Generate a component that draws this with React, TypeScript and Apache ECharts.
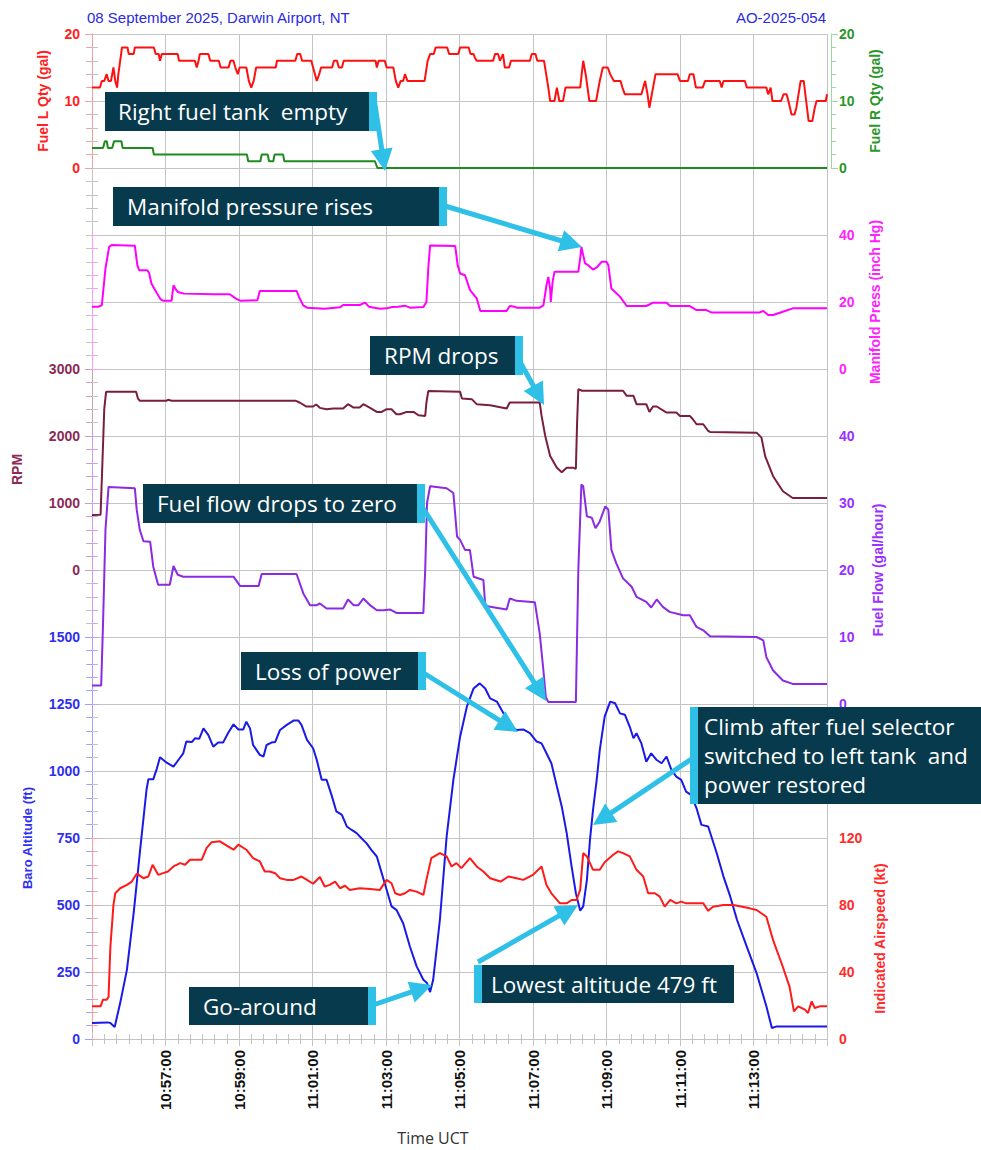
import React, { useEffect, useRef } from "react";
import * as echarts from "echarts";

// time in seconds after 10:55:00
const T_START_H = 10;
const T_START_M = 55;
const X_MAX = 1200;

const fuelL: [number, number][] = [
  [0,12],[13,12],[16,13],[20,13],[24,14],[27,13],[31,13],[35,15],[38,13],[41,12],[43,14],[46,16],[49,18],[58,18],[60,17],[68,17],[70,18],[101,18],[104,17],[109,17],[111,16],[114,17],[140,17],[142,16],[168,16],[171,15],[174,16],[176,17],[190,17],[193,16],[207,16],[210,15],[223,15],[226,16],[231,16],[234,15],[238,14],[241,15],[252,15],[256,13],[260,12],[264,13],[268,15],[300,15],[302,16],[332,16],[335,17],[340,17],[343,16],[358,16],[361,15],[364,14],[367,13],[371,14],[374,15],[392,15],[395,16],[400,16],[403,15],[408,15],[411,16],[463,16],[465,15],[468,16],[478,16],[481,15],[492,15],[496,13],[500,12],[504,13],[508,13],[511,14],[515,13],[543,13],[548,16],[552,17],[558,17],[561,18],[580,18],[583,17],[598,17],[601,18],[615,18],[618,17],[623,17],[625,16.5],[628,16],[655,16],[658,17],[663,17],[666,16],[671,17],[674,15],[681,15],[684,16],[715,16],[718,17],[724,17],[727,16],[738,16],[745,12],[748,10],[755,10],[759,12],[763,10],[769,10],[773,12],[797,12],[802,16],[806,14],[812,10],[823,10],[829,13],[834,15],[842,15],[846,14],[852,13],[863,13],[866,12],[870,11],[897,11],[900,12],[903,13],[907,11],[910,9],[914,11],[916,12],[920,14],[956,14],[960,13],[973,13],[976,14],[982,14],[986,12],[997,12],[1001,13],[1025,13],[1028,12],[1031,13],[1066,13],[1069,12],[1101,12],[1104,11],[1108,12],[1111,10],[1125,10],[1129,11],[1134,11],[1137,10],[1142,8],[1147,8],[1150,9],[1157,13],[1162,13],[1166,10],[1170,7],[1176,7],[1180,9],[1183,10],[1198,10],[1200,11]
];

const fuelR: [number, number][] = [
  [0,3],[18,3],[21,4],[24,4],[26,3],[33,3],[36,4],[48,4],[50,3],[99,3],[101,2],[253,2],[255,1],[275,1],[277,2],[287,2],[289,1],[296,1],[298,2],[312,2],[314,1],[462,1],[466,0],[1200,0]
];

const manifold: [number, number][] = [
  [0,18.6],[10,18.6],[16,19],[22,30],[28,36.5],[32,37],[70,36.8],[74,31],[77,29.5],[90,29.5],[93,28.8],[97,25.5],[106,22.6],[112,20.8],[116,20.4],[130,20.4],[133,25],[136,24],[140,23],[150,22.5],[200,22.3],[225,22.3],[235,21],[242,20.4],[270,20.5],[274,23.3],[334,23.3],[338,21.5],[345,19],[351,18.3],[380,18],[405,18.4],[410,19.1],[437,19.1],[446,19.8],[452,18.6],[470,18],[481,18.1],[490,18.5],[500,18.6],[511,18.9],[519,18.3],[541,18.5],[546,20],[549,30],[552,36.9],[593,36.7],[597,31],[601,28.5],[609,28],[617,23.6],[628,21.1],[634,17.3],[677,17.3],[682,18.8],[690,18.6],[693,18.3],[731,18.3],[737,19],[742,25],[745,27.5],[748,24],[749,20],[752,26],[755,29],[794,29],[797,33],[799,36.4],[802,34],[805,31.5],[810,31],[818,29.7],[824,30.3],[832,32],[840,32],[843,31],[848,24],[854,23],[862,21.6],[873,18.8],[905,18.8],[916,19.8],[938,19.8],[944,18.8],[976,18.8],[987,17.6],[1003,17.6],[1011,16.9],[1090,16.9],[1096,17.3],[1104,16.1],[1112,16.1],[1128,17.1],[1144,18.1],[1200,18.1]
];

const rpm: [number, number][] = [
  [0,820],[14,825],[17,1600],[20,2400],[23,2660],[72,2660],[75,2560],[78,2525],[121,2525],[124,2540],[130,2525],[333,2525],[339,2500],[350,2440],[361,2440],[366,2470],[372,2420],[383,2400],[394,2410],[410,2410],[418,2475],[427,2425],[437,2425],[443,2475],[454,2420],[465,2360],[473,2360],[481,2400],[489,2400],[497,2325],[503,2325],[514,2360],[525,2360],[533,2310],[544,2300],[546,2500],[549,2670],[601,2660],[604,2560],[620,2550],[628,2475],[650,2460],[677,2410],[682,2500],[731,2500],[734,2300],[740,2000],[748,1700],[759,1525],[767,1460],[775,1525],[786,1525],[790,1510],[792,2200],[794,2700],[800,2675],[867,2675],[873,2600],[884,2600],[889,2475],[905,2475],[910,2360],[916,2440],[922,2440],[938,2350],[954,2350],[960,2300],[976,2300],[981,2250],[987,2175],[998,2175],[1006,2075],[1009,2060],[1085,2050],[1093,1975],[1099,1700],[1112,1400],[1128,1175],[1144,1075],[1200,1075]
];

const fuelFlow: [number, number][] = [
  [0,2.75],[15,2.75],[18,12],[22,26],[27,32.4],[70,32.2],[73,29],[78,26],[84,24.3],[95,24.2],[100,20.5],[108,17.8],[127,17.8],[133,20.6],[140,19.3],[149,19],[231,19],[242,17.6],[272,17.6],[277,19.4],[334,19.4],[345,16.5],[356,14.75],[367,14.75],[372,15],[383,14.25],[410,14.25],[418,15.6],[427,14.75],[435,14.75],[443,15.75],[454,14.75],[465,14],[476,14],[487,14.1],[497,13.6],[541,13.6],[544,20],[547,30],[552,32.5],[579,32.2],[590,31.5],[596,25],[601,24.5],[609,23],[617,23],[623,19],[639,18.5],[642,14.75],[650,14.5],[677,14.1],[682,15.75],[690,15.5],[693,15.4],[723,15.2],[731,10.5],[737,5],[741,1],[745,0.3],[790,0.3],[794,20],[799,32.75],[802,32.5],[808,28],[816,27.8],[822,26.25],[829,27.25],[838,29.5],[843,29],[848,23],[856,21],[867,18.75],[881,17.5],[889,16],[905,15.25],[913,14.4],[922,15.6],[932,14.5],[943,13.75],[965,13.25],[976,13.25],[987,11.5],[998,11],[1009,10.1],[1085,10],[1096,9.5],[1101,7],[1112,5],[1128,3.5],[1144,3],[1200,3]
];

const baroAlt: [number, number][] = [
  [0,60],[25,62],[30,60],[37,45],[46,134],[57,258],[68,470],[78,693],[89,930],[92,969],[100,969],[106,1010],[111,1051],[122,1031],[133,1016],[141,1041],[149,1066],[154,1110],[163,1108],[168,1122],[175,1120],[182,1159],[190,1134],[198,1091],[206,1106],[214,1106],[222,1141],[231,1174],[239,1155],[247,1155],[252,1184],[258,1159],[263,1097],[274,1060],[280,1054],[285,1097],[293,1106],[299,1108],[307,1153],[318,1172],[329,1188],[337,1188],[342,1172],[351,1116],[361,1085],[367,1041],[375,967],[383,967],[391,911],[399,849],[408,836],[416,793],[424,780],[432,768],[440,749],[448,731],[456,706],[465,681],[473,619],[481,557],[489,495],[497,482],[508,432],[519,345],[530,271],[541,221],[547,209],[552,175],[557,221],[568,445],[579,755],[590,967],[601,1128],[612,1240],[623,1308],[633,1327],[642,1308],[650,1271],[661,1259],[672,1215],[682,1172],[693,1153],[704,1155],[715,1141],[726,1110],[734,1103],[742,1066],[750,1029],[759,942],[767,867],[775,768],[783,644],[790,544],[797,479],[802,495],[808,594],[813,743],[818,855],[824,967],[829,1078],[837,1203],[846,1259],[854,1253],[862,1215],[870,1210],[878,1165],[884,1122],[889,1141],[897,1103],[905,1035],[913,1066],[922,1041],[930,1029],[938,1054],[946,1004],[954,979],[962,967],[970,923],[978,911],[987,861],[995,799],[1006,793],[1020,693],[1031,606],[1042,532],[1053,445],[1069,345],[1085,246],[1101,122],[1110,41],[1118,47],[1200,47]
];

const airspeed: [number, number][] = [
  [0,19.5],[14,19.5],[18,23.5],[24,23.5],[27,25],[30,55],[35,80],[38,87],[46,90],[57,92],[65,94],[73,98.7],[84,96],[92,97],[99,104],[108,98],[116,99],[124,100],[133,103],[144,105],[152,104],[160,107],[179,107],[187,114],[195,117.4],[209,118],[220,115.4],[231,113],[239,116],[252,113],[263,108],[274,106],[282,100],[290,100],[299,99],[307,96],[318,95],[329,95],[342,97],[351,95],[361,92.7],[372,96.7],[380,91],[388,92],[397,94],[405,90],[413,91.5],[421,89],[437,90],[454,89.5],[470,89],[481,95],[489,93],[495,87],[503,86],[511,87],[519,89],[530,88],[541,86],[546,95],[554,108],[568,111],[579,109],[587,103],[595,105],[603,102],[617,108],[628,103],[639,100],[650,96],[667,94],[680,97],[693,96],[704,95],[720,98],[734,103],[742,92],[750,87],[764,81],[775,81],[783,83],[791,83],[797,89],[802,111],[808,109],[818,101],[829,101],[837,105.5],[851,110],[859,112],[867,111],[878,109],[889,101],[900,97],[908,87],[919,87],[927,85],[935,79],[944,83],[954,81],[962,82],[970,81],[987,81],[998,81],[1006,76.5],[1014,79],[1031,80],[1047,80],[1074,78],[1085,77],[1101,73],[1112,59],[1128,43],[1139,31],[1146,16.5],[1153,19.5],[1164,17.5],[1169,15.5],[1175,22.5],[1180,18.5],[1188,19.5],[1200,19.5]
];

const headerLeft = "08 September 2025, Darwin Airport, NT";
const headerRight = "AO-2025-054";
const xTitle = "Time UCT";

const notes = {
  tank: ["Right fuel tank  empty"],
  manifold: ["Manifold pressure rises"],
  rpmDrop: ["RPM drops"],
  flowZero: ["Fuel flow drops to zero"],
  loss: ["Loss of power"],
  go: ["Go-around"],
  lowest: ["Lowest altitude 479 ft"],
  climb: ["Climb after fuel selector", "switched to left tank  and", "power restored"],
};

const FONT = "'Liberation Sans', Arial, sans-serif";
const NOTE_FONT = "'Open Sans', 'Noto Sans', sans-serif";
const DARK = "#073a4c";
const CYAN = "#2ec0e6";
const GRID = "#c4c4c4";

function fmtTime(v: number): string {
  const total = T_START_H * 3600 + T_START_M * 60 + Math.round(v);
  const h = Math.floor(total / 3600);
  const m = Math.floor((total % 3600) / 60);
  const s = total % 60;
  const p = (n: number) => String(n).padStart(2, "0");
  return `${p(h)}:${p(m)}:${p(s)}`;
}

function yAxis(gridIndex: number, position: string, min: number, max: number, interval: number,
  color: string, lineColor: string, name: string, nameGap: number, nameSize: number) {
  return {
    type: "value", gridIndex, position, offset: 4, min, max, interval,
    splitLine: { show: false },
    name, nameLocation: "middle", nameGap, nameRotate: 90,
    nameTextStyle: { color, fontSize: nameSize, fontWeight: "bold", fontFamily: FONT },
    axisLine: { show: true, lineStyle: { color: lineColor, width: 1 } },
    axisTick: { show: true, inside: false, length: 7, lineStyle: { color: lineColor } },
    minorTick: { show: true, splitNumber: 5, length: 5, lineStyle: { color: lineColor } },
    axisLabel: { show: true, color, fontSize: 14, fontWeight: "bold", margin: 8, fontFamily: FONT, formatter: (v: number) => String(v) },
  };
}

function arrow(x1: number, y1: number, x2: number, y2: number) {
  const dx = x2 - x1, dy = y2 - y1;
  const len = Math.hypot(dx, dy);
  const ux = dx / len, uy = dy / len;
  const nx = -uy, ny = ux;
  const L = 22, W = 11;
  const bx = x2 - ux * L, by = y2 - uy * L;
  return {
    type: "group",
    z: 100,
    children: [
      { type: "line", z: 100, shape: { x1, y1, x2: bx + ux * 2, y2: by + uy * 2 }, style: { stroke: CYAN, lineWidth: 5 } },
      { type: "polygon", z: 100, shape: { points: [[x2, y2], [bx + nx * W, by + ny * W], [bx - nx * W, by - ny * W]] }, style: { fill: CYAN } },
    ],
  };
}

function noteBox(x: number, y: number, w: number, h: number, stripe: "left" | "right", lines: string[], tx: number, lineH = 29) {
  const sw = 8;
  const children: any[] = [
    { type: "rect", z: 101, shape: { x, y, width: w, height: h }, style: { fill: DARK } },
    { type: "rect", z: 102, shape: { x: stripe === "left" ? x : x + w - sw, y, width: sw, height: h }, style: { fill: CYAN } },
  ];
  const cy = y + h / 2 - ((lines.length - 1) * lineH) / 2;
  lines.forEach((t, i) => {
    children.push({
      type: "text", z: 103,
      style: { text: t, x: tx, y: cy + i * lineH, fill: "#ffffff", fontSize: 22.5, fontFamily: NOTE_FONT, textVerticalAlign: "middle", textAlign: "left" },
    });
  });
  return { type: "group", z: 101, children };
}

export default function App() {
  const ref = useRef<HTMLDivElement>(null);
  useEffect(() => {
    if (!ref.current) return;
    const chart = echarts.init(ref.current, null, { renderer: "svg" });
    const L = 92, W = 735;
    const grids = [
      { left: L, top: 34, width: W, height: 1005 },
      { left: L, top: 34, width: W, height: 134 },
      { left: L, top: 235, width: W, height: 134 },
      { left: L, top: 369, width: W, height: 201 },
      { left: L, top: 436, width: W, height: 268 },
      { left: L, top: 637, width: W, height: 402 },
      { left: L, top: 838, width: W, height: 201 },
    ];
    const hiddenX = (gi: number) => ({ type: "value", gridIndex: gi, min: 0, max: X_MAX, interval: 120, show: false });
    const xAxes: any[] = [
      {
        type: "value", gridIndex: 0, position: "bottom", min: 0, max: X_MAX, interval: 120,
        axisLine: { show: true, lineStyle: { color: GRID } },
        axisTick: { show: true, inside: true, length: 7, lineStyle: { color: GRID } },
        minorTick: { show: true, splitNumber: 6, length: 5, lineStyle: { color: GRID } },
        splitLine: { show: true, lineStyle: { color: GRID, width: 1 } },
        axisLabel: {
          show: true, rotate: 90, margin: 11, color: "#111", fontWeight: "bold", fontSize: 15, fontFamily: FONT,
          formatter: (v: number) => (v <= 0 || v >= X_MAX ? "" : fmtTime(v)),
        },
      },
      {
        type: "value", gridIndex: 0, position: "top", min: 0, max: X_MAX, interval: 120,
        axisLine: { show: true, lineStyle: { color: GRID } },
        axisTick: { show: true, inside: true, length: 7, lineStyle: { color: GRID } },
        minorTick: { show: true, splitNumber: 6, length: 5, lineStyle: { color: GRID } },
        splitLine: { show: false },
        axisLabel: { show: false },
      },
      hiddenX(1), hiddenX(2), hiddenX(3), hiddenX(4), hiddenX(5), hiddenX(6),
    ];
    const bgY = (pos: string, split: boolean) => ({
      type: "value", gridIndex: 0, position: pos, min: 0, max: 15, interval: 1,
      axisLine: { show: true, lineStyle: { color: GRID } },
      axisTick: { show: true, inside: true, length: 6, lineStyle: { color: GRID } },
      minorTick: { show: true, splitNumber: 5, length: 6, lineStyle: { color: GRID } },
      splitLine: { show: split, lineStyle: { color: GRID, width: 1 } },
      axisLabel: { show: false },
    });
    const yAxes: any[] = [
      bgY("left", true), bgY("right", false),
      yAxis(1, "left", 0, 20, 10, "#ff2020", "#f5a0a0", "Fuel L Qty (gal)", 38, 14),
      yAxis(1, "right", 0, 20, 10, "#2a962a", "#9fd89f", "Fuel R Qty (gal)", 37, 14),
      yAxis(2, "right", 0, 40, 20, "#ff22ff", "#ff9cff", "Manifold Press (inch Hg)", 37, 14),
      yAxis(3, "left", 0, 3000, 1000, "#8b2a55", "#cfa0b4", "RPM", 64, 14),
      yAxis(4, "right", 0, 40, 10, "#9a30ff", "#cf9cff", "Fuel Flow (gal/hour)", 40, 14),
      yAxis(5, "left", 0, 1500, 250, "#3030f0", "#a0a0ff", "Baro Altitude (ft)", 54, 13),
      yAxis(6, "right", 0, 120, 40, "#ff2a2a", "#ffa0a0", "Indicated Airspeed (kt)", 37, 14),
    ];
    const line = (name: string, data: [number, number][], xi: number, yi: number, color: string) => ({
      type: "line", name, data, xAxisIndex: xi, yAxisIndex: yi, showSymbol: false, symbol: "none",
      lineStyle: { color, width: 2 }, itemStyle: { color }, silent: true, z: 3,
    });
    const series = [
      line("Fuel R Qty", fuelR, 2, 3, "#1f8a1f"),
      line("Fuel L Qty", fuelL, 2, 2, "#ff1010"),
      line("Manifold Press", manifold, 3, 4, "#ff00ff"),
      line("RPM", rpm, 4, 5, "#7a1e3e"),
      line("Fuel Flow", fuelFlow, 5, 6, "#8a2be2"),
      line("Baro Altitude", baroAlt, 6, 7, "#1a1ae6"),
      line("Indicated Airspeed", airspeed, 7, 8, "#ff1a1a"),
    ];
    const graphic: any[] = [
      { type: "text", z: 100, style: { text: headerLeft, x: 87, y: 17, fill: "#2a2ae0", fontSize: 15, fontFamily: FONT, textVerticalAlign: "middle" } },
      { type: "text", z: 100, style: { text: headerRight, x: 826, y: 17, fill: "#2a2ae0", fontSize: 15, fontFamily: FONT, textAlign: "right", textVerticalAlign: "middle" } },
      { type: "text", z: 100, style: { text: xTitle, x: 433, y: 1138, fill: "#333", fontSize: 16, fontFamily: NOTE_FONT, textAlign: "center", textVerticalAlign: "middle" } },
      arrow(374, 98, 385, 171),
      noteBox(105, 92, 272, 39, "right", notes.tank, 118),
      arrow(445, 206, 582, 247),
      noteBox(113, 187, 334, 39, "right", notes.manifold, 127),
      arrow(519, 360, 544, 405),
      noteBox(370, 336, 153, 39, "right", notes.rpmDrop, 384),
      arrow(421, 505, 546, 701),
      noteBox(143, 484, 282, 39, "right", notes.flowZero, 157),
      arrow(422, 672, 518, 732),
      noteBox(241, 652, 185, 38, "right", notes.loss, 255),
      arrow(373, 1005, 432, 985),
      noteBox(189, 987, 187, 38, "right", notes.go, 203),
      arrow(478, 962, 578, 905),
      noteBox(474, 965, 260, 38, "left", notes.lowest, 491),
      arrow(693, 758, 593, 825),
      noteBox(690, 707, 291, 97, "left", notes.climb, 704, 29),
    ];
    chart.setOption({
      animation: false,
      backgroundColor: "#ffffff",
      grid: grids,
      xAxis: xAxes,
      yAxis: yAxes,
      series,
      graphic,
    });
    return () => chart.dispose();
  }, []);
  return <div ref={ref} style={{ position: "absolute", left: 0, top: 0, width: 981, height: 1150, background: "#fff" }} />;
}
